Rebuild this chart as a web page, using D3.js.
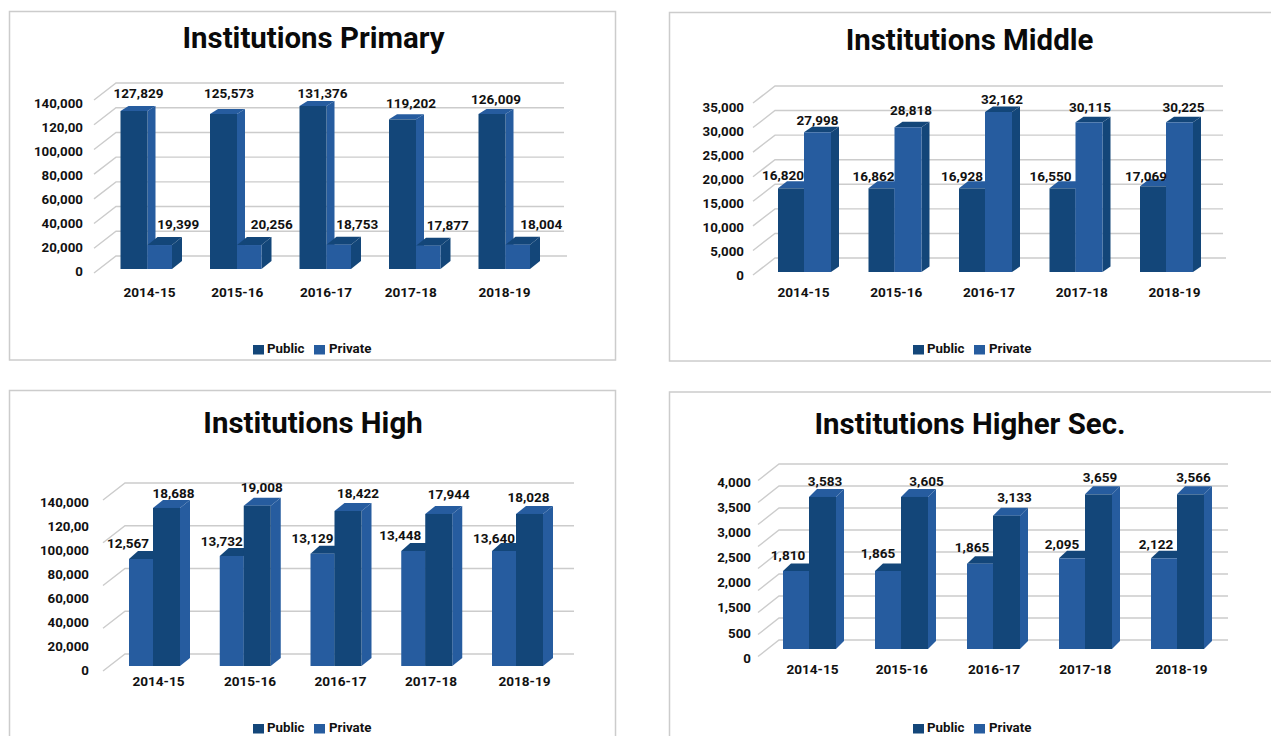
<!DOCTYPE html>
<html><head><meta charset="utf-8">
<script src="https://cdn.jsdelivr.net/npm/d3@7/dist/d3.min.js"></script>
<style>
html,body{margin:0;padding:0;background:#fff;overflow:hidden}
svg{display:block}
text{font-family:Roboto,sans-serif;font-weight:700;fill:#111}
</style></head><body>
<svg id="c" width="1271" height="736"></svg>
<script>
// ---------- data ----------
const categories = ["2014-15","2015-16","2016-17","2017-18","2018-19"];
const seriesNames = ["Public","Private"];

const primaryTitle = "Institutions Primary";
const primaryTicks = ["140,000","120,00","100,000","80,000","60,000","40,000","20,000","0"];
const primaryGrid = [0,20000,40000,60000,80000,100000,120000,140000];
const primaryLeftLabels = [127829,125573,131376,119202,126009];
const primaryRightLabels = [19399,20256,18753,17877,18004];
const primaryLeftHeights = [127860,125430,131900,121100,125430];
const primaryRightHeights = [19400,19400,19700,18900,19700];

const middleTitle = "Institutions Middle";
const middleTicks = ["35,000","30,000","25,000","20,000","15,000","10,000","5,000","0"];
const middleGrid = [0,5000,10000,15000,20000,25000,30000,35000];
const middleLeftLabels = [16820,16862,16928,16550,17069];
const middleRightLabels = [27998,28818,32162,30115,30225];
const middleLeftHeights = [17030,17030,17030,17030,17440];
const middleRightHeights = [28430,29450,32560,30460,30460];

const highTitle = "Institutions High";
const highTicks = ["140,000","120,00","100,000","80,000","60,000","40,000","20,000","0"];
const highGrid = [0,35000,70000,105000,140000];
const highLeftLabels = [12567,13732,13129,13448,13640];
const highRightLabels = [18688,19008,18422,17944,18028];
const highLeftHeights = [87600,90060,91940,94150,94150];
const highRightHeights = [129360,131240,126900,124450,124450];

const higherTitle = "Institutions Higher Sec.";
const higherTicks = ["4,000","3,500","3,000","2,500","2,000","1,500","500","0"];
const higherGrid = [0,500,1000,1500,2000,2500,3000,3500,4000];
const higherLeftLabels = [1810,1865,1865,2095,2122];
const higherRightLabels = [3583,3605,3133,3659,3566];
const higherLeftHeights = [1773,1773,1939,2061,2061];
const higherRightHeights = [3455,3455,3030,3515,3515];

// ---------- colours and layout ----------
const dark = "#134679", light = "#265c9f", gridColor = "#cccccc", borderColor = "#cccccc";

const panels = [
 {title:primaryTitle, ticks:primaryTicks, grid:primaryGrid, max:140000,
  labels:[primaryLeftLabels,primaryRightLabels], heights:[primaryLeftHeights,primaryRightHeights],
  box:[9.5,11.5,606,348.5], titleX:313.5,titleY:37,
  tickX:83, tickRange:[103,271],
  wall:{left:116,right:564,top:83,bottom:256,dx:22,dy:17,floorExtra:3},
  base:269, barX0:120.5, step:89.5, widths:[27,24.5],
  depth:[[8,5],[10,8]],
  fills:[{front:dark,top:light,side:light},{front:light,top:dark,side:dark}],
  catRange:[149,504], catY:292, catNudge:[0,-1,-1,-5,0],
  leftOff:[[4.5,-18],[5.5,-21],[9.5,-13],[8.5,-16],[4,-15]],
  rightOff:[[18.5,-21],[22.5,-21],[18.5,-21],[19.5,-21],[23.5,-21]],
  legendY:345},
 {title:middleTitle, ticks:middleTicks, grid:middleGrid, max:35000,
  labels:[middleLeftLabels,middleRightLabels], heights:[middleLeftHeights,middleRightHeights],
  box:[669.5,12.5,700,348.5], titleX:969.5,titleY:39,
  tickX:744, tickRange:[107,275],
  wall:{left:775,right:1223,top:86,bottom:258,dx:22,dy:17,floorExtra:3},
  base:272, barX0:778, step:90.5, widths:[26,27],
  depth:[[9,7],[8,5.5]],
  fills:[{front:dark,top:light,side:light},{front:light,top:dark,side:dark}],
  catRange:[803,1174], catY:292.5, catNudge:[0,0,0,0,0],
  leftOff:[[-8,-13],[-8,-12],[-10,-12],[-12,-12],[-7,-10]],
  rightOff:[[0,-12],[3,-17],[3.5,-13],[1,-15],[4,-15]],
  legendY:345},
 {title:highTitle, ticks:highTicks, grid:highGrid, max:140000,
  labels:[highLeftLabels,highRightLabels], heights:[highLeftHeights,highRightHeights],
  box:[9.5,390.5,606,400], titleX:313,titleY:422,
  tickX:89, tickRange:[502,670],
  wall:{left:125,right:574,top:483,bottom:654,dx:22,dy:17,floorExtra:0},
  base:666, barX0:129, step:90.75, widths:[24,27],
  depth:[[9,8],[10,8]],
  fills:[{front:light,top:dark,side:dark},{front:dark,top:light,side:light}],
  catRange:[158,524], catY:681, catNudge:[0,0,-1,-2,0],
  leftOff:[[-13,-16],[-10,-15],[-10,-16],[-13,-16],[-10,-13]],
  rightOff:[[7,-15],[4.5,-19],[10,-18],[10,-20],[-1,-17]],
  legendY:724},
 {title:higherTitle, ticks:higherTicks, grid:higherGrid, max:4000,
  labels:[higherLeftLabels,higherRightLabels], heights:[higherLeftHeights,higherRightHeights],
  box:[669.5,392,700,400], titleX:970,titleY:423,
  tickX:751, tickRange:[482,658],
  wall:{left:779,right:1228,top:464,bottom:640,dx:21,dy:16.5,floorExtra:0},
  base:649, barX0:783, step:92, widths:[26,27],
  depth:[[8,7.5],[8,8]],
  fills:[{front:light,top:dark,side:dark},{front:dark,top:light,side:light}],
  catRange:[812,1181], catY:669, catNudge:[0,-3,-3,-4,0],
  leftOff:[[-8,-16],[-10,-18],[-8,-17],[-10,-14],[-8,-14]],
  rightOff:[[2.5,-16],[12,-16],[8,-19],[1.5,-17],[3,-17]],
  legendY:724}
];
const legendOffsets = [{swatch:243.5,text:257.5},{swatch:304.5,text:319.5}];
const comma = d3.format(",");

const svg = d3.select("#c");
panels.forEach(drawPanel);

function drawPanel(p){
  const g = svg.append("g");
  g.append("rect").attr("x",p.box[0]).attr("y",p.box[1]).attr("width",p.box[2]).attr("height",p.box[3])
   .attr("fill","#fff").attr("stroke",borderColor).attr("stroke-width",1.5);

  g.append("text").attr("x",p.titleX).attr("y",p.titleY).attr("dy","0.36em")
   .attr("text-anchor","middle").style("font-size","29.4px").style("fill","#0a0a0a").text(p.title);

  // wall gridlines on the rear plane, with a diagonal floor segment
  const w = p.wall;
  const yWall = d3.scaleLinear().domain([0,p.max]).range([w.bottom,w.top]);
  const gridLine = d3.line();
  g.append("g").selectAll("path").data(p.grid).join("path")
   .attr("fill","none").attr("stroke",gridColor).attr("stroke-width",1.4)
   .attr("d",v=>gridLine([[w.left-w.dx,yWall(v)+w.dy],[w.left,yWall(v)],[w.right+(v===0?w.floorExtra:0),yWall(v)]]));

  // y tick labels
  const yTicks = d3.scalePoint().domain(p.ticks).range(p.tickRange);
  const yAxis = g.append("g").attr("transform",`translate(${p.tickX},0)`)
   .call(d3.axisLeft(yTicks).tickSize(0).tickPadding(0));
  yAxis.select(".domain").remove();
  yAxis.selectAll("text").style("font-size","13.3px");

  // x tick labels
  const xLabels = d3.scalePoint().domain(categories).range(p.catRange);
  const xAxis = g.append("g").attr("transform",`translate(0,${p.catY})`)
   .call(d3.axisBottom(xLabels).tickSize(0).tickPadding(0));
  xAxis.select(".domain").remove();
  xAxis.selectAll("text").attr("y",0).attr("dy","0.36em")
   .attr("dx",(d,i)=>p.catNudge[i]).style("font-size","13.6px");

  // bars
  const x0 = d3.scaleBand().domain(categories).range([p.barX0,p.barX0+p.step*categories.length]);
  const y = d3.scaleLinear().domain([0,p.max]).range([p.base,p.base-(w.bottom-w.top)]);
  const offset = [0,p.widths[0]];
  const poly = d3.line();
  [0,1].forEach(s=>{
    const bw = p.widths[s], [dx,dy] = p.depth[s], fill = p.fills[s];
    const bars = g.append("g").selectAll("g").data(p.heights[s]).join("g");
    const left = (d,i)=>x0(categories[i])+offset[s];
    bars.append("path").attr("fill",fill.side)
      .attr("d",(d,i)=>{const r=left(d,i)+bw;return poly([[r,y(d)],[r+dx,y(d)-dy],[r+dx,y(0)-dy],[r,y(0)]])+"Z";});
    bars.append("path").attr("fill",fill.top)
      .attr("d",(d,i)=>{const l=left(d,i);return poly([[l,y(d)],[l+bw,y(d)],[l+bw+dx,y(d)-dy],[l+dx,y(d)-dy]])+"Z";});
    bars.append("rect").attr("fill",fill.front)
      .attr("x",left).attr("y",d=>y(d)).attr("width",bw).attr("height",d=>y(0)-y(d));
  });

  // value labels
  [0,1].forEach(s=>{
    const off = s===0?p.leftOff:p.rightOff, bw = p.widths[s];
    g.append("g").selectAll("text").data(p.labels[s]).join("text")
     .attr("x",(d,i)=>x0(categories[i])+offset[s]+bw/2+off[i][0])
     .attr("y",(d,i)=>y(p.heights[s][i])+off[i][1])
     .attr("dy","0.36em").attr("text-anchor","middle").style("font-size","13.5px")
     .text(d=>comma(d));
  });

  // legend
  const lx = p.box[0];
  const leg = g.append("g").selectAll("g").data(seriesNames).join("g");
  leg.append("rect").attr("x",(d,i)=>lx+legendOffsets[i].swatch).attr("y",p.legendY)
     .attr("width",11).attr("height",9.5).attr("fill",(d,i)=>i===0?dark:light);
  leg.append("text").attr("x",(d,i)=>lx+legendOffsets[i].text).attr("y",p.legendY+3)
     .attr("dy","0.36em").style("font-size","13.3px").text(d=>d);
}
</script>
</body></html>
